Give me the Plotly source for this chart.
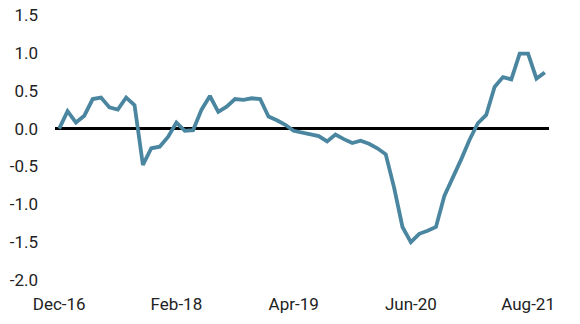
import plotly.graph_objects as go

months = []
mnames = ["Jan", "Feb", "Mar", "Apr", "May", "Jun", "Jul", "Aug", "Sep", "Oct", "Nov", "Dec"]
y, m = 2016, 11
for _ in range(59):
    months.append(f"{mnames[m]}-{str(y)[2:]}")
    m += 1
    if m == 12:
        m = 0
        y += 1

values = [0.00, 0.23, 0.08, 0.17, 0.39, 0.41, 0.28, 0.25, 0.41, 0.31,
          -0.48, -0.26, -0.24, -0.11, 0.08, -0.03, -0.02, 0.25, 0.43, 0.22,
          0.29, 0.39, 0.38, 0.40, 0.39, 0.16, 0.11, 0.05, -0.03, -0.05,
          -0.08, -0.10, -0.17, -0.08, -0.14, -0.19, -0.16, -0.20, -0.26, -0.34,
          -0.78, -1.30, -1.50, -1.39, -1.35, -1.30, -0.89, -0.66, -0.41, -0.15,
          0.07, 0.18, 0.55, 0.68, 0.65, 0.99, 0.99, 0.66, 0.74]

tick_labels = ["Dec-16", "Feb-18", "Apr-19", "Jun-20", "Aug-21"]
y_ticks = [1.5, 1.0, 0.5, 0.0, -0.5, -1.0, -1.5, -2.0]

fig = go.Figure()
fig.add_trace(go.Scatter(x=months, y=values, mode="lines",
                         line=dict(color="#4A86A0", width=3.8)))

fig.update_layout(
    width=580, height=324,
    margin=dict(l=55, r=31, t=15, b=44),
    paper_bgcolor="white", plot_bgcolor="white",
    showlegend=False,
    font=dict(family="Roboto", size=17, color="#222222"),
    xaxis=dict(type="category", categoryorder="array", categoryarray=months,
               range=[-0.5, 58.5], tickmode="array", tickvals=tick_labels,
               ticktext=tick_labels, showgrid=False, showline=False,
               zeroline=False, ticks="", ticklabelstandoff=12, automargin=False),
    yaxis=dict(range=[-2.0, 1.5], tickmode="array", tickvals=y_ticks,
               ticktext=[f"{v:.1f}" for v in y_ticks], showgrid=False,
               showline=False, zeroline=True, zerolinecolor="black",
               zerolinewidth=3, ticks="", ticklabelstandoff=16, automargin=False),
)

fig.write_html("out.html")
